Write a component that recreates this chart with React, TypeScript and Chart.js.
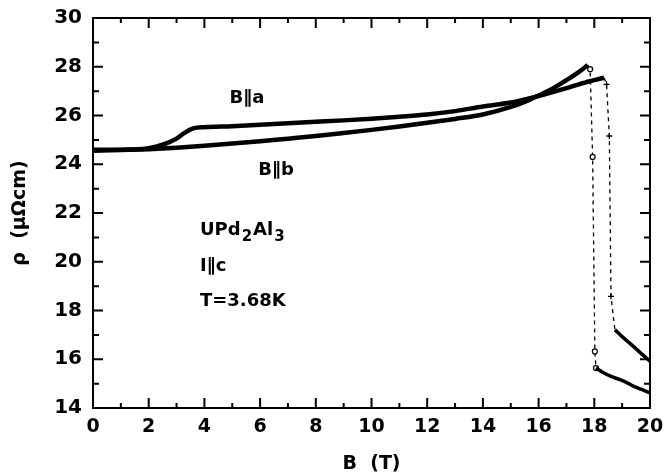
import React, { useEffect, useRef } from "react";
import { Chart, registerables } from "chart.js";

Chart.register(...registerables);

// B || a : low-field branch
const aLowB = [0, 1, 2, 2.5, 3, 3.3, 3.6, 4, 5, 6, 7, 8, 9, 10, 11, 12, 13, 14, 15, 16, 17, 17.5, 18, 18.35];
const aLowRho = [24.6, 24.6, 24.66, 24.8, 25.05, 25.3, 25.47, 25.52, 25.56, 25.62, 25.68, 25.74, 25.8, 25.87, 25.95, 26.04, 26.18, 26.37, 26.53, 26.8, 27.12, 27.3, 27.45, 27.55];
// B || a : transition (sparse points, dashed)
const aDropB = [18.35, 18.44, 18.54, 18.6, 18.74];
const aDropRho = [27.55, 27.28, 25.16, 18.58, 17.21];
// B || a : high-field branch
const aHighB = [18.74, 19.0, 19.4, 19.7, 20];
const aHighRho = [17.21, 16.93, 16.53, 16.22, 15.92];

// B || b : low-field branch
const bLowB = [0, 1, 2, 3, 4, 5, 6, 7, 8, 9, 10, 11, 12, 13, 14, 15, 15.5, 16, 16.5, 17, 17.4, 17.77];
const bLowRho = [24.55, 24.58, 24.62, 24.68, 24.76, 24.85, 24.94, 25.05, 25.16, 25.28, 25.41, 25.55, 25.7, 25.86, 26.04, 26.35, 26.56, 26.82, 27.1, 27.45, 27.75, 28.07];
// B || b : transition
const bDropB = [17.77, 17.85, 17.94, 18.02, 18.06];
const bDropRho = [28.07, 27.9, 24.3, 16.32, 15.64];
// B || b : high-field branch
const bHighB = [18.06, 18.3, 18.6, 18.92, 19.2, 19.4, 19.7, 20];
const bHighRho = [15.64, 15.47, 15.3, 15.16, 15.02, 14.9, 14.76, 14.62];

const xMin = 0, xMax = 20, xStep = 2;
const yMin = 14, yMax = 30, yStep = 2;

const pts = (xs: number[], ys: number[]) => xs.map((x, i) => ({ x, y: ys[i] }));

const FONT = "'DejaVu Sans', sans-serif";

const framePlugin = {
  id: "frameTicks",
  afterDraw(chart: any) {
    const { ctx, chartArea: a, scales } = chart;
    const xs = scales.x, ys = scales.y;
    ctx.save();
    ctx.strokeStyle = "#000";
    ctx.lineWidth = 2;
    ctx.strokeRect(a.left, a.top, a.right - a.left, a.bottom - a.top);
    ctx.beginPath();
    for (let v = xMin; v <= xMax; v += 1) {
      const px = xs.getPixelForValue(v);
      const len = v % xStep === 0 ? 10 : 5;
      ctx.moveTo(px, a.bottom);
      ctx.lineTo(px, a.bottom - len);
      ctx.moveTo(px, a.top);
      ctx.lineTo(px, a.top + len);
    }
    for (let v = yMin; v <= yMax; v += 1) {
      const py = ys.getPixelForValue(v);
      const len = v % yStep === 0 ? 10 : 6;
      ctx.moveTo(a.left, py);
      ctx.lineTo(a.left + len, py);
      ctx.moveTo(a.right, py);
      ctx.lineTo(a.right - len, py);
    }
    ctx.stroke();

    // annotations
    ctx.fillStyle = "#000";
    ctx.textBaseline = "middle";
    const X = (v: number) => xs.getPixelForValue(v);
    const Y = (v: number) => ys.getPixelForValue(v);
    ctx.font = `bold 18px ${FONT}`;
    ctx.textAlign = "center";
    ctx.fillText("B\u2225a", X(5.53), Y(26.72));
    ctx.fillText("B\u2225b", X(6.57), Y(23.77));
    ctx.textAlign = "left";
    // UPd2Al3 with subscripts
    let cx = X(3.84);
    const cy = Y(21.27);
    const parts: [string, boolean][] = [["UPd", false], ["2", true], ["Al", false], ["3", true]];
    for (const [t, sub] of parts) {
      ctx.font = sub ? `bold 15px ${FONT}` : `bold 18px ${FONT}`;
      ctx.fillText(t, cx, sub ? cy + 6 : cy);
      cx += ctx.measureText(t).width + 1;
    }
    ctx.font = `bold 18px ${FONT}`;
    ctx.fillText("I\u2225c", X(3.84), Y(19.8));
    ctx.fillText("T=3.68K", X(3.84), Y(18.36));
    ctx.restore();
  },
};

export default function App() {
  const ref = useRef<HTMLCanvasElement>(null);
  useEffect(() => {
    if (!ref.current) return;
    const thick = {
      borderColor: "#000",
      pointRadius: 0,
      fill: false,
      cubicInterpolationMode: "monotone" as const,
      showLine: true,
    };
    const chart = new Chart(ref.current, {
      type: "scatter",
      data: {
        datasets: [
          { ...thick, label: "B||a low", data: pts(aLowB, aLowRho), borderWidth: 4.5 },
          { ...thick, label: "B||b low", data: pts(bLowB, bLowRho), borderWidth: 4.5 },
          { ...thick, label: "B||a high", data: pts(aHighB, aHighRho), borderWidth: 3.5 },
          { ...thick, label: "B||b high", data: pts(bHighB, bHighRho), borderWidth: 3.5 },
          {
            label: "B||a drop",
            data: pts(aDropB, aDropRho),
            showLine: true,
            borderColor: "#000",
            borderWidth: 1.3,
            borderDash: [4, 4],
            pointStyle: "cross",
            pointRadius: [0, 3, 3, 3, 0],
            pointBorderColor: "#000",
            pointBorderWidth: 1.3,
          },
          {
            label: "B||b drop",
            data: pts(bDropB, bDropRho),
            showLine: true,
            borderColor: "#000",
            borderWidth: 1.3,
            borderDash: [4, 4],
            pointStyle: "circle",
            pointRadius: [0, 2.5, 2.5, 2.5, 2.5],
            pointBackgroundColor: "#fff",
            pointBorderColor: "#000",
            pointBorderWidth: 1.2,
          },
        ],
      },
      options: {
        animation: false,
        responsive: false,
        layout: { padding: { top: 18, right: 15, left: 0, bottom: 0 } },
        plugins: { legend: { display: false }, tooltip: { enabled: false } },
        scales: {
          x: {
            type: "linear",
            min: xMin,
            max: xMax,
            grid: { display: false, drawTicks: false },
            border: { display: false },
            ticks: {
              stepSize: xStep,
              color: "#000",
              padding: 8,
              maxRotation: 0,
              font: { family: FONT, weight: "bold", size: 19 },
            },
            title: {
              display: true,
              text: "B  (T)",
              color: "#000",
              font: { family: FONT, weight: "bold", size: 19 },
              padding: { top: 0, bottom: 1 },
            },
            afterFit: (s: any) => {
              s.height = 68;
              s.paddingLeft = 0;
              s.paddingRight = 0;
            },
          },
          y: {
            type: "linear",
            min: yMin,
            max: yMax,
            grid: { display: false, drawTicks: false },
            border: { display: false },
            ticks: {
              stepSize: yStep,
              color: "#000",
              padding: 11,
              font: { family: FONT, weight: "bold", size: 20 },
            },
            title: {
              display: true,
              text: "\u03C1  (\u03BC\u03A9cm)",
              color: "#000",
              font: { family: FONT, weight: "bold", size: 19 },
              padding: { top: 9, bottom: 0 },
            },
            afterFit: (s: any) => {
              s.width = 93;
              s.paddingTop = 0;
              s.paddingBottom = 0;
            },
          },
        },
      },
      plugins: [framePlugin],
    });
    return () => chart.destroy();
  }, []);
  return (
    <div style={{ position: "absolute", left: 0, top: 0, width: 665, height: 476, background: "#fff" }}>
      <canvas ref={ref} width={665} height={476} />
    </div>
  );
}
